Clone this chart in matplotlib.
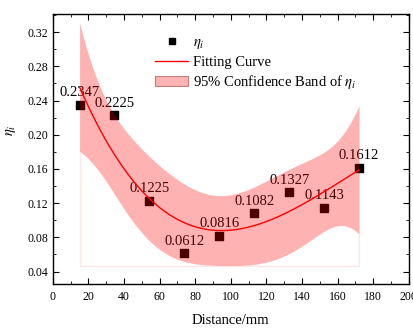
import numpy as np
import matplotlib.pyplot as plt
from matplotlib.lines import Line2D
from matplotlib.patches import Patch

plt.rcParams['font.family'] = ['Liberation Serif', 'DejaVu Serif']
plt.rcParams['mathtext.fontset'] = 'stix'

# measured data
distance = [15, 34.6, 54.2, 73.9, 93.5, 113.1, 132.8, 152.4, 172]
eta = [0.2347, 0.2225, 0.1225, 0.0612, 0.0816, 0.1082, 0.1327, 0.1143, 0.1612]
labels = ['0.2347', '0.2225', '0.1225', '0.0612', '0.0816', '0.1082', '0.1327', '0.1143', '0.1612']

T95 = {4: 2.776, 5: 2.571, 6: 2.447}


def fit_band(x, y, deg=3, n=200):
    # polynomial fit plus 95% confidence band of the mean
    x = np.asarray(x)
    y = np.asarray(y)
    X = np.vander(x, deg + 1)
    coef, *_ = np.linalg.lstsq(X, y, rcond=None)
    resid = y - X @ coef
    dof = len(x) - (deg + 1)
    s2 = resid @ resid / dof
    cov = s2 * np.linalg.inv(X.T @ X)
    xs = np.linspace(x.min(), x.max(), n)
    Xs = np.vander(xs, deg + 1)
    ys = Xs @ coef
    se = np.sqrt(np.einsum('ij,jk,ik->i', Xs, cov, Xs))
    t = T95[dof]
    return xs, ys, ys - t * se, ys + t * se


def main():
    fig = plt.figure(figsize=(4.13, 3.29), dpi=100)
    ax = fig.add_axes([0.128, 0.137, 0.862, 0.820])

    xs, ys, lo, hi = fit_band(distance, eta, deg=3)

    ax.scatter(distance, eta, marker='s', s=30, color='black', zorder=2)
    ax.plot(xs, ys, color='red', lw=1, zorder=3)
    for xv, yv, lab in zip(distance, eta, labels):
        ax.annotate(lab, (xv, yv), xytext=(0, 4), textcoords='offset points',
                    ha='center', va='bottom', fontsize=10.5, zorder=2)

    ax.fill_between(xs, lo, hi, color='red', alpha=0.3, lw=0, zorder=4)
    # faint outline Origin leaves under the band
    base = 0.0467
    ax.plot([xs[0], xs[0], xs[-1], xs[-1]], [lo[0], base, base, lo[-1]],
            color='#ffe6e6', lw=1, zorder=1)

    ax.set_xlim(0, 200)
    ax.set_ylim(0.0255, 0.341)
    ax.set_xticks(np.arange(0, 201, 20))
    ax.set_xticks(np.arange(0, 201, 10), minor=True)
    ax.set_yticks(np.arange(0.04, 0.33, 0.04))
    ax.set_yticks(np.arange(0.04, 0.34, 0.02), minor=True)
    ax.set_yticklabels(['%.2f' % v for v in np.arange(0.04, 0.33, 0.04)])
    ax.tick_params(which='both', direction='in', top=True, right=True, labelsize=8.5)
    ax.tick_params(axis='x', pad=5)
    ax.tick_params(which='major', length=4)
    ax.tick_params(which='minor', length=2)
    for sp in ax.spines.values():
        sp.set_linewidth(1)

    ax.set_xlabel('Distance/mm', fontsize=10.5, labelpad=8)
    ax.set_ylabel(r'$\eta_i$', fontsize=10.5)
    ax.yaxis.set_label_coords(-0.097, 0.57)

    handles = [
        Line2D([], [], marker='s', ls='none', color='black', markersize=5),
        Line2D([], [], color='red', lw=1),
        Patch(facecolor='#ffb3b3', edgecolor='#c08080', lw=0.8),
    ]
    names = [r'$\eta_i$', 'Fitting Curve', r'95% Confidence Band of $\eta_i$']
    ax.legend(handles, names, loc='upper left', bbox_to_anchor=(0.27, 0.94),
              frameon=False, fontsize=10.5, handlelength=2.3, handletextpad=0.3,
              labelspacing=0.3, borderaxespad=0)

    fig.savefig('out.png', dpi=100)


if __name__ == '__main__':
    main()
